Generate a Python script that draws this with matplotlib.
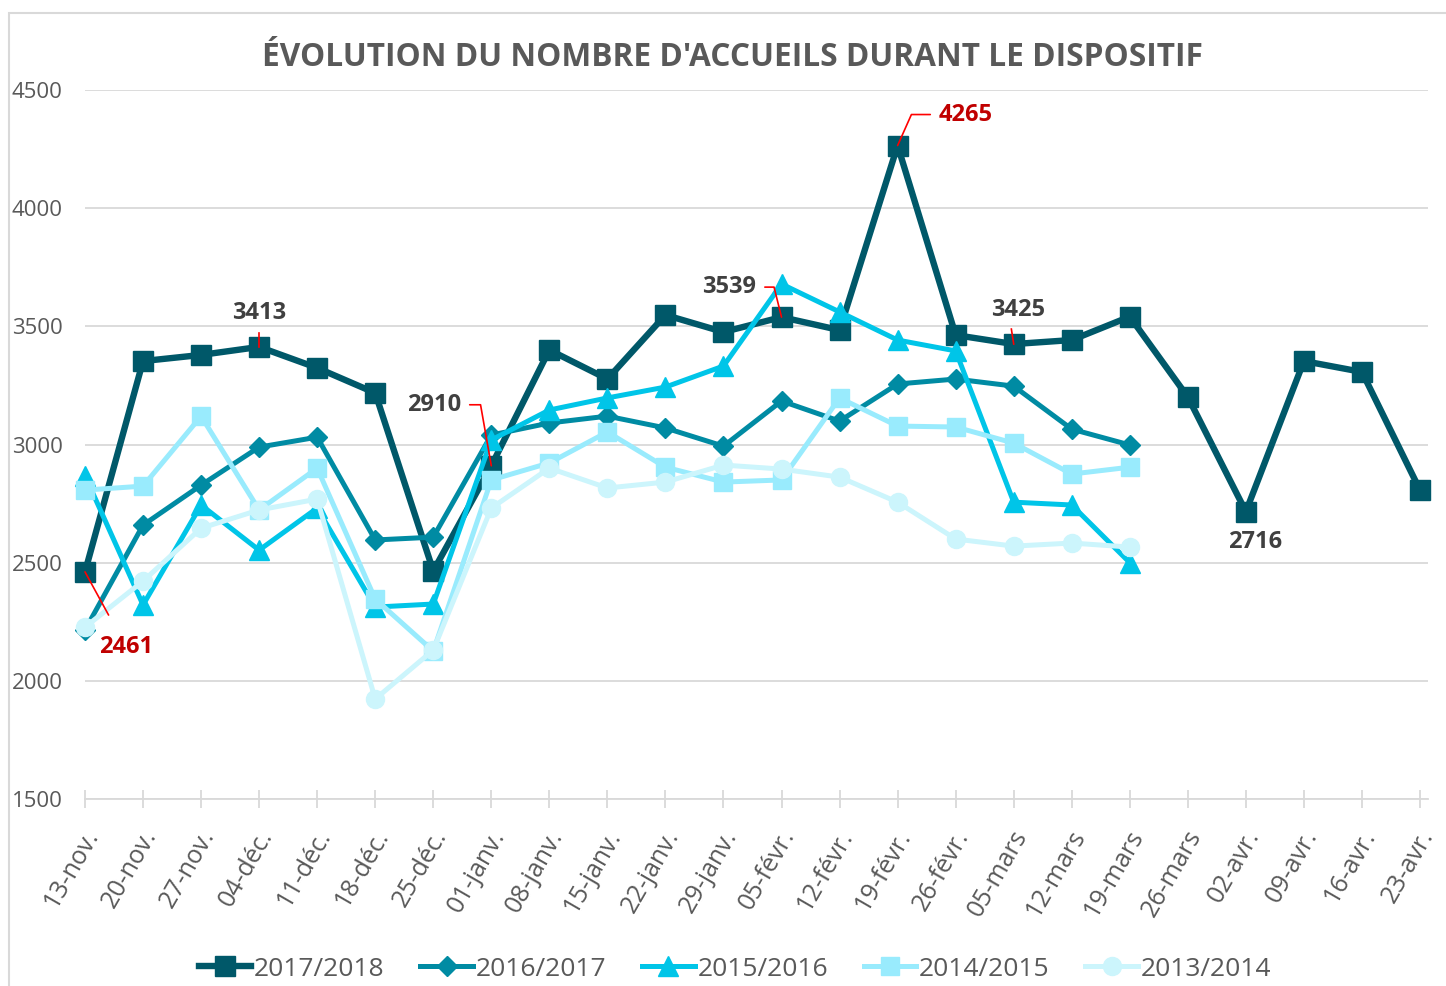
import matplotlib
matplotlib.use("Agg")
import matplotlib.pyplot as plt
from matplotlib.transforms import ScaledTranslation
from matplotlib.patches import Rectangle

plt.rcParams['font.family'] = ['Open Sans', 'DejaVu Sans']

categories = ["13-nov.", "20-nov.", "27-nov.", "04-déc.", "11-déc.", "18-déc.", "25-déc.",
              "01-janv.", "08-janv.", "15-janv.", "22-janv.", "29-janv.", "05-févr.", "12-févr.",
              "19-févr.", "26-févr.", "05-mars", "12-mars", "19-mars", "26-mars", "02-avr.",
              "09-avr.", "16-avr.", "23-avr."]

s2017_2018 = [2461, 3353, 3379, 3413, 3324, 3218, 2465, 2910, 3400, 3277, 3548, 3476, 3539, 3484,
              4265, 3463, 3425, 3442, 3541, 3201, 2716, 3353, 3307, 2807]
s2016_2017 = [2215, 2659, 2828, 2989, 3031, 2596, 2608, 3040, 3091, 3120, 3070, 2993, 3184, 3099,
              3256, 3277, 3247, 3065, 2998]
s2015_2016 = [2868, 2321, 2744, 2553, 2731, 2312, 2325, 3019, 3146, 3197, 3243, 3332, 3679, 3561,
              3442, 3396, 2756, 2744, 2500]
s2014_2015 = [2807, 2824, 3120, 2723, 2900, 2346, 2126, 2850, 2922, 3053, 2904, 2841, 2850, 3197,
              3078, 3074, 3006, 2875, 2904]
s2013_2014 = [2227, 2422, 2646, 2723, 2769, 1923, 2130, 2731, 2900, 2816, 2841, 2913, 2896, 2862,
              2756, 2600, 2570, 2583, 2566]
series_names = ["2017/2018", "2016/2017", "2015/2016", "2014/2015", "2013/2014"]
title = "ÉVOLUTION DU NOMBRE D'ACCUEILS DURANT LE DISPOSITIF"
yticks = [1500, 2000, 2500, 3000, 3500, 4000, 4500]

W, H = 1446, 986
fig = plt.figure(figsize=(W / 100, H / 100), dpi=100)
ax = fig.add_axes([85 / W, (H - 799) / H, (1428 - 85) / W, (799 - 90) / H])

styles = [
    dict(color="#005869", marker="s", ms=14, lw=4.6),
    dict(color="#008BA3", marker="D", ms=10.5, lw=3.6),
    dict(color="#00C5E8", marker="^", ms=15, lw=3.6),
    dict(color="#99EBFD", marker="s", ms=13, lw=3.6),
    dict(color="#CCF5FC", marker="o", ms=13, lw=3.6),
]
all_series = [s2017_2018, s2016_2017, s2015_2016, s2014_2015, s2013_2014]
handles = []
for i, (vals, st, name) in enumerate(zip(all_series, styles, series_names)):
    x = list(range(len(vals)))
    h, = ax.plot(x, vals, color=st["color"], lw=st["lw"], marker=st["marker"],
                 ms=st["ms"], mec=st["color"], mfc=st["color"], label=name,
                 solid_joinstyle="round", zorder=3 + i, clip_on=False)
    handles.append(h)

step = (1420 - 85) / 23
ax.set_xlim(0, (1428 - 85) / step)
ax.set_ylim(1500, 4500)
ax.set_yticks(yticks)
ax.set_xticks(range(len(categories)))
ax.set_xticklabels(categories)
ax.grid(axis="y", color="#D9D9D9", lw=1.3)
ax.set_axisbelow(True)
for sp in ["left", "right", "top"]:
    ax.spines[sp].set_visible(False)
ax.spines["bottom"].set_color("#D9D9D9")
ax.spines["bottom"].set_linewidth(1.3)
ax.tick_params(axis="y", length=0, pad=16, labelsize=16, labelcolor="#595959")
ax.tick_params(axis="x", direction="inout", length=13, width=1.3, color="#D9D9D9",
               labelsize=18, labelcolor="#595959", pad=17)
offset = ScaledTranslation(8 / 100, 0, fig.dpi_scale_trans)
for lab in ax.get_xticklabels():
    lab.set_rotation(60)
    lab.set_ha("right")
    lab.set_va("center")
    lab.set_rotation_mode("anchor")
    lab.set_transform(lab.get_transform() + offset)

fig.text(732 / W, (H - 57) / H, title, ha="center", va="center", fontsize=22.8,
         fontweight="bold", color="#595959")

gray = "#404040"
red = "#C00000"
lead = "#FF0000"
ann_kw = dict(fontsize=17, fontweight="bold", ha="center", va="center")

# 3413 at 04-déc
ax.annotate("3413", xy=(3, s2017_2018[3]), xytext=(0, 34), textcoords="offset pixels",
            color=gray, **ann_kw)
ax.plot([3, 3], [s2017_2018[3], s2017_2018[3] + 14 / 0.2363], color=lead, lw=1.2, zorder=20)

# 2461 at 13-nov
ax.annotate("2461", xy=(0, s2017_2018[0]), xytext=(41, -75), textcoords="offset pixels",
            color=red, zorder=20, **ann_kw,
            arrowprops=dict(arrowstyle="-", color=lead, lw=1.2, shrinkA=14, shrinkB=0))

# 2910 at 01-janv
ax.annotate("2910", xy=(7, s2017_2018[7]), xytext=(-57, 61), textcoords="offset pixels",
            color=gray, zorder=20, **ann_kw,
            arrowprops=dict(arrowstyle="-", color=lead, lw=1.2, shrinkA=4, shrinkB=0,
                            connectionstyle="angle,angleA=0,angleB=100,rad=0"))

# 3539 at 05-févr
ax.annotate("3539", xy=(12, s2017_2018[12]), xytext=(-52, 30), textcoords="offset pixels",
            color=gray, zorder=20, **ann_kw,
            arrowprops=dict(arrowstyle="-", color=lead, lw=1.2, shrinkA=4, shrinkB=0,
                            connectionstyle="angle,angleA=0,angleB=104,rad=0"))

# 4265 at 19-févr
ax.annotate("4265", xy=(14, s2017_2018[14]), xytext=(68, 31), textcoords="offset pixels",
            color=red, zorder=20, **ann_kw,
            arrowprops=dict(arrowstyle="-", color=lead, lw=1.2, shrinkA=4, shrinkB=0,
                            connectionstyle="angle,angleA=0,angleB=66,rad=0"))

# 3425 at 05-mars
ax.annotate("3425", xy=(16, s2017_2018[16]), xytext=(4, 34), textcoords="offset pixels",
            color=gray, zorder=20, **ann_kw)
ax.plot([16, 15.96], [s2017_2018[16], s2017_2018[16] + 15 / 0.2363], color=lead, lw=1.2, zorder=20)

# 2716 at 02-avr
ax.annotate("2716", xy=(20, s2017_2018[20]), xytext=(9, -30), textcoords="offset pixels",
            color=gray, zorder=20, **ann_kw)

leg = fig.legend(handles=handles, loc="center", bbox_to_anchor=(735 / W, (H - 969) / H),
                 ncol=5, frameon=False, fontsize=19, handlelength=2.0, handletextpad=0.1,
                 columnspacing=1.35, labelcolor="#595959", numpoints=1)

fig.patches.append(Rectangle((9 / W, -0.1), 1.2, (H - 13) / H + 0.1, transform=fig.transFigure,
                             fill=False, edgecolor="#D9D9D9", lw=1.5))

fig.savefig("out.png", dpi=100)
